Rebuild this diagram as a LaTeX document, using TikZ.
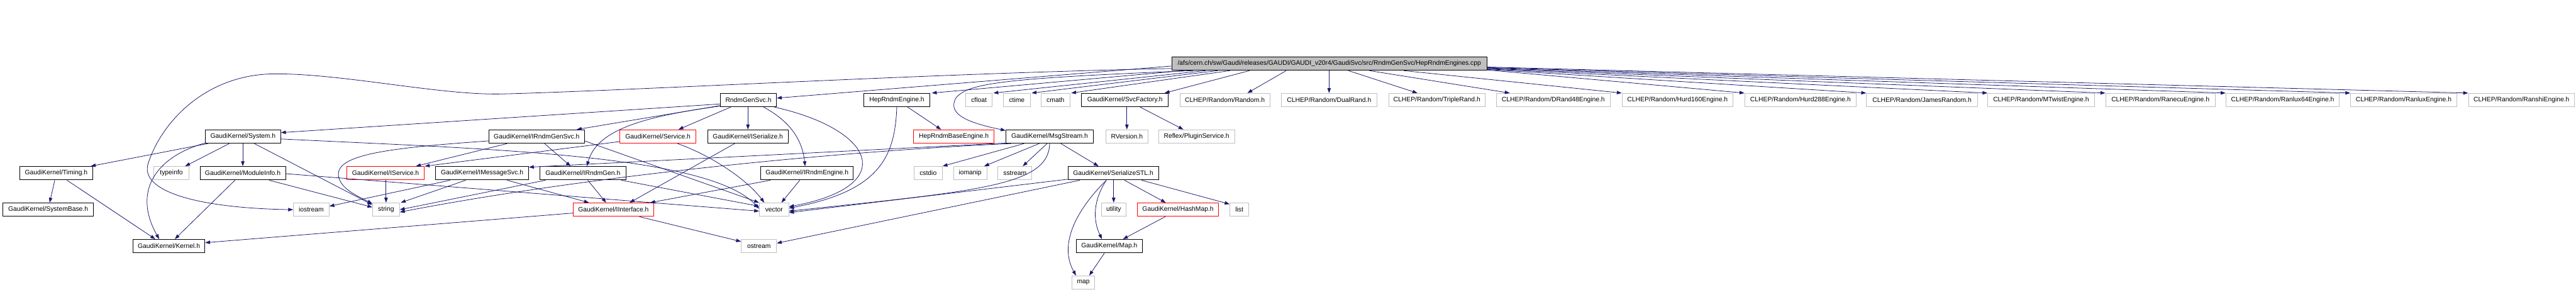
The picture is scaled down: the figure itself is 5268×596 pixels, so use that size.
\documentclass[tikz,border=0pt]{standalone}
\usepackage{fontspec}
\setmainfont{Liberation Sans}
\usetikzlibrary{arrows.meta,calc}
\definecolor{edgec}{HTML}{191970}
\definecolor{grayb}{HTML}{BFBFBF}
\begin{document}
\begin{tikzpicture}[x=1pt,y=-1pt,
  font=\fontsize{13.3}{16}\selectfont,
  nd/.style={rectangle, minimum height=27.5pt, inner sep=0pt, line width=1.2pt, text=black},
  blk/.style={nd, draw=black},
  gry/.style={nd, draw=grayb},
  rdn/.style={nd, draw=red},
  mainn/.style={nd, draw=black, fill=grayb},
  dep/.style={draw=edgec, line width=1pt, -{Triangle[length=10pt,width=7pt]}}]
\useasboundingbox (0,0) rectangle (5268,596);
% row 0
\node[mainn, minimum width=645pt] (main) at (2718.5,130) {/afs/cern.ch/sw/Gaudi/releases/GAUDI/GAUDI\_v20r4/GaudiSvc/src/RndmGenSvc/HepRndmEngines.cpp};
% row 1
\node[blk, minimum width=115pt] (RndmGenSvc) at (1530.5,204.5) {RndmGenSvc.h};
\node[blk, minimum width=134pt] (HepRndmEngine) at (1834,204.5) {HepRndmEngine.h};
\node[gry, minimum width=54pt] (cfloat) at (2002,204.5) {cfloat};
\node[gry, minimum width=55pt] (ctime) at (2079.5,204.5) {ctime};
\node[gry, minimum width=59pt] (cmath) at (2158.5,204.5) {cmath};
\node[blk, minimum width=177pt] (SvcFactory) at (2300.5,204.5) {GaudiKernel/SvcFactory.h};
\node[gry, minimum width=184pt] (Random) at (2505,204.5) {CLHEP/Random/Random.h};
\node[gry, minimum width=196pt] (DualRand) at (2718,204.5) {CLHEP/Random/DualRand.h};
\node[gry, minimum width=197pt] (TripleRand) at (2938.5,204.5) {CLHEP/Random/TripleRand.h};
\node[gry, minimum width=233pt] (DRand48) at (3176.5,204.5) {CLHEP/Random/DRand48Engine.h};
\node[gry, minimum width=227pt] (Hurd160) at (3430.5,204.5) {CLHEP/Random/Hurd160Engine.h};
\node[gry, minimum width=228pt] (Hurd288) at (3682,204.5) {CLHEP/Random/Hurd288Engine.h};
\node[gry, minimum width=227pt] (James) at (3930.5,204.5) {CLHEP/Random/JamesRandom.h};
\node[gry, minimum width=218pt] (MTwist) at (4174,204.5) {CLHEP/Random/MTwistEngine.h};
\node[gry, minimum width=224pt] (Ranecu) at (4418,204.5) {CLHEP/Random/RanecuEngine.h};
\node[gry, minimum width=232pt] (Ranlux64) at (4668,204.5) {CLHEP/Random/Ranlux64Engine.h};
\node[gry, minimum width=217pt] (Ranlux) at (4915.5,204.5) {CLHEP/Random/RanluxEngine.h};
\node[gry, minimum width=217pt] (Ranshi) at (5156.5,204.5) {CLHEP/Random/RanshiEngine.h};
% row 2
\node[blk, minimum width=154pt] (System) at (497,279) {GaudiKernel/System.h};
\node[blk, minimum width=195pt] (IRndmGenSvc) at (1097.5,279) {GaudiKernel/IRndmGenSvc.h};
\node[rdn, minimum width=155pt] (Service) at (1345.5,279) {GaudiKernel/Service.h};
\node[blk, minimum width=165pt] (ISerialize) at (1529.5,279) {GaudiKernel/ISerialize.h};
\node[rdn, minimum width=165pt] (HepRndmBase) at (1950.5,279) {HepRndmBaseEngine.h};
\node[blk, minimum width=179pt] (MsgStream) at (2146.5,279) {GaudiKernel/MsgStream.h};
\node[gry, minimum width=87pt] (RVersion) at (2304.5,279) {RVersion.h};
\node[gry, minimum width=156pt] (Plugin) at (2447,279) {Reflex/PluginService.h};
% row 3
\node[blk, minimum width=150pt] (Timing) at (115,354) {GaudiKernel/Timing.h};
\node[gry, minimum width=71pt] (typeinfo) at (350.5,354) {typeinfo};
\node[blk, minimum width=175pt] (ModuleInfo) at (496.5,354) {GaudiKernel/ModuleInfo.h};
\node[rdn, minimum width=159pt] (IService) at (788.5,354) {GaudiKernel/IService.h};
\node[blk, minimum width=190pt] (IMessageSvc) at (986,354) {GaudiKernel/IMessageSvc.h};
\node[blk, minimum width=176pt] (IRndmGen) at (1192,354) {GaudiKernel/IRndmGen.h};
\node[blk, minimum width=189pt] (IRndmEngine) at (1650.5,354) {GaudiKernel/IRndmEngine.h};
\node[gry, minimum width=58pt] (cstdio) at (1898,354) {cstdio};
\node[gry, minimum width=68pt] (iomanip) at (1984,354) {iomanip};
\node[gry, minimum width=69pt] (sstream) at (2075.5,354) {sstream};
\node[blk, minimum width=185pt] (SerializeSTL) at (2276.5,354) {GaudiKernel/SerializeSTL.h};
% row 4
\node[blk, minimum width=185pt] (SystemBase) at (98.5,428.5) {GaudiKernel/SystemBase.h};
\node[gry, minimum width=73pt] (iostream) at (636.5,428.5) {iostream};
\node[gry, minimum width=55pt] (string) at (789.5,428.5) {string};
\node[rdn, minimum width=165pt] (IInterface) at (1254.5,428.5) {GaudiKernel/IInterface.h};
\node[gry, minimum width=60pt] (vector) at (1583,428.5) {vector};
\node[gry, minimum width=51pt] (utility) at (2277.5,428.5) {utility};
\node[rdn, minimum width=166pt] (HashMap) at (2409,428.5) {GaudiKernel/HashMap.h};
\node[gry, minimum width=39pt] (list) at (2534.5,428.5) {list};
% row 5
\node[blk, minimum width=147pt] (Kernel) at (345.5,503) {GaudiKernel/Kernel.h};
\node[gry, minimum width=72pt] (ostream) at (1552,503) {ostream};
\node[blk, minimum width=135pt] (Map) at (2268.5,503) {GaudiKernel/Map.h};
% row 6
\node[gry, minimum width=47pt] (map) at (2215.5,577.5) {map};

% ---- edges from main
\draw[dep] ($(main.west)+(0,5)$) -- ($(RndmGenSvc.east)+(0,-4)$);
\draw[dep] ($(main.west)+(0,10)$) .. controls (1900,150) and (1300,185) .. (1026,192)
   .. controls (900,195) and (700,150) .. (561,151)
   .. controls (420,152) and (330,250) .. (303,334)
   .. controls (285,390) and (400,425) .. (iostream.west);
\draw[dep] ($(main.south west)+(25,0)$) -- ($(HepRndmEngine.north east)+(4,0)$);
\draw[dep] ($(main.south west)+(45,0)$) .. controls (2050,160) and (1980,170) .. (1955,200)
   .. controls (1935,235) and (1985,252) .. ($(MsgStream.north west)+(0,2)$);
\draw[dep] ($(main.south west)+(70,0)$) -- ($(cfloat.north east)+(2,0)$);
\draw[dep] ($(main.south west)+(95,0)$) -- ($(ctime.north east)+(2,0)$);
\draw[dep] ($(main.south west)+(120,0)$) -- ($(cmath.north east)+(2,0)$);
\draw[dep] ($(main.south west)+(160,0)$) -- ($(SvcFactory.north east)+(-8,0)$);
\draw[dep] ($(main.south west)+(235,0)$) -- ($(Random.north)+(46,0)$);
\draw[dep] (DualRand.north |- main.south) -- (DualRand.north);
\draw[dep] ($(main.south west)+(362,0)$) -- ($(TripleRand.north)+(-40,0)$);
\draw[dep] ($(main.south west)+(405,0)$) -- ($(DRand48.north west)+(28,0)$);
\draw[dep] ($(main.south west)+(475,0)$) -- (Hurd160.north west);
\draw[dep] ($(main.east)+(0,13)$) -- (Hurd288.north west);
\draw[dep] ($(main.east)+(0,12)$) -- (James.north west);
\draw[dep] ($(main.east)+(0,11)$) -- (MTwist.north west);
\draw[dep] ($(main.east)+(0,10)$) -- (Ranecu.north west);
\draw[dep] ($(main.east)+(0,9)$) -- (Ranlux64.north west);
\draw[dep] ($(main.east)+(0,8)$) -- (Ranlux.north west);
\draw[dep] ($(main.east)+(0,7)$) -- (Ranshi.north west);

% ---- RndmGenSvc
\draw[dep] ($(RndmGenSvc.west)+(0,8)$) -- ($(System.east)+(0,-8)$);
\draw[dep] ($(RndmGenSvc.south west)+(0,-3)$) -- ($(IRndmGenSvc.north)+(82,0)$);
\draw[dep] ($(RndmGenSvc.south west)+(0,-2)$) .. controls (1300,240) and (1220,270) .. ($(IRndmGen.north)+(8,0)$);
\draw[dep] ($(RndmGenSvc.south west)+(22,0)$) -- ($(Service.north)+(42,0)$);
\draw[dep] (ISerialize.north |- RndmGenSvc.south) -- (ISerialize.north);
\draw[dep] ($(RndmGenSvc.south)+(31,0)$) .. controls (1610,245) and (1640,280) .. ($(IRndmEngine.north)+(-4,0)$);
\draw[dep] ($(RndmGenSvc.south east)+(-5,0)$) .. controls (1790,265) and (1840,380) .. ($(vector.east)+(0,-6)$);

% ---- HepRndmEngine
\draw[dep] ($(HepRndmEngine.south)+(22,0)$) -- ($(HepRndmBase.north)+(-26,0)$);
\draw[dep] (HepRndmEngine.south) .. controls (1830,320) and (1800,390) .. ($(vector.east)+(0,-3)$);

% ---- SvcFactory
\draw[dep] (RVersion.north |- SvcFactory.south) -- (RVersion.north);
\draw[dep] ($(SvcFactory.south)+(31,0)$) -- ($(Plugin.north)+(-27,0)$);

% ---- MsgStream
\draw[dep] ($(MsgStream.south west)+(38,0)$) -- (cstdio.north east);
\draw[dep] ($(MsgStream.south west)+(69,0)$) -- ($(iomanip.north east)+(-6,0)$);
\draw[dep] ($(MsgStream.south west)+(85,0)$) -- ($(sstream.north)+(16,0)$);
\draw[dep] ($(MsgStream.south west)+(113,0)$) -- ($(SerializeSTL.north)+(-30,0)$);
\draw[dep] ($(MsgStream.south west)+(0,-1)$) -- ($(IMessageSvc.north east)+(0,2)$);
\draw[dep] ($(MsgStream.south west)+(12,0)$) .. controls (1700,310) and (1200,360) .. ($(string.east)+(0,5)$);
\draw[dep] (MsgStream.south) .. controls (2145,380) and (2000,390) .. ($(vector.east)+(0,3)$);

% ---- SerializeSTL
\draw[dep] (utility.north |- SerializeSTL.south) -- (utility.north);
\draw[dep] ($(SerializeSTL.south)+(23,0)$) -- ($(HashMap.north)+(-25,0)$);
\draw[dep] ($(SerializeSTL.south east)+(-35,0)$) -- ($(list.north west)+(0,3)$);
\draw[dep] ($(SerializeSTL.south)+(-14,0)$) .. controls (2235,410) and (2235,450) .. ($(Map.north)+(-15,0)$);
\draw[dep] ($(SerializeSTL.south)+(-14,0)$) .. controls (2200,430) and (2165,500) .. ($(map.north)+(-15,0)$);
\draw[dep] ($(SerializeSTL.south west)+(0,-2)$) -- ($(vector.east)+(0,6)$);
\draw[dep] ($(SerializeSTL.south west)+(25,0)$) -- ($(ostream.east)+(0,-6)$);
\draw[dep] ($(HashMap.south)+(-26,0)$) -- ($(Map.north)+(28,0)$);
\draw[dep] ($(Map.south)+(-10,0)$) -- ($(map.north)+(12,0)$);

% ---- ISerialize, Service, IRndmGenSvc
\draw[dep] ($(ISerialize.south)+(-27,0)$) -- ($(IInterface.north east)+(-50,0)$);
\draw[dep] ($(Service.south west)+(0,-4)$) -- (IService.north east);
\draw[dep] ($(Service.south)+(40,0)$) .. controls (1460,320) and (1530,370) .. ($(vector.north)+(-20,0)$);
\draw[dep] ($(IRndmGenSvc.south west)+(38,0)$) -- ($(IService.north)+(62,0)$);
\draw[dep] ($(IRndmGenSvc.west)+(0,9)$) .. controls (800,302) and (690,315) .. (692,357)
   .. controls (694,385) and (730,400) .. ($(string.north west)+(0,2)$);
\draw[dep] ($(IRndmGenSvc.south)+(16,0)$) -- ($(IRndmGen.north)+(-25,0)$);
\draw[dep] ($(IRndmGenSvc.east)+(0,9)$) -- (vector.north west);

% ---- IMessageSvc, IRndmGen, IRndmEngine, IService
\draw[dep] ($(IMessageSvc.south west)+(30,0)$) -- ($(iostream.east)+(0,-7)$);
\draw[dep] ($(IMessageSvc.south west)+(62,0)$) -- ($(string.north east)+(2,0)$);
\draw[dep] ($(IMessageSvc.south)+(51,0)$) -- ($(IInterface.north west)+(33,0)$);
\draw[dep] ($(IRndmGen.south)+(10,0)$) -- ($(IInterface.north)+(-15,0)$);
\draw[dep] ($(IRndmGen.south west)+(12,0)$) -- (string.east);
\draw[dep] ($(IRndmGen.south east)+(-10,0)$) -- ($(vector.west)+(0,-7)$);
\draw[dep] ($(IRndmEngine.south west)+(20,0)$) -- ($(IInterface.north east)+(-8,0)$);
\draw[dep] ($(IRndmEngine.south)+(-15,0)$) -- ($(vector.north)+(15,0)$);
\draw[dep] (string.north |- IService.south) -- (string.north);

% ---- IInterface
\draw[dep] ($(IInterface.south east)+(-30,0)$) -- ($(ostream.north west)+(0,5)$);
\draw[dep] ($(IInterface.west)+(0,7)$) -- ($(Kernel.east)+(0,-7)$);

% ---- System
\draw[dep] ($(System.south west)+(6,0)$) -- ($(Timing.north east)+(-5,0)$);
\draw[dep] ($(System.south)+(-28,0)$) -- ($(typeinfo.north east)+(-8,0)$);
\draw[dep] (ModuleInfo.north |- System.south) -- (ModuleInfo.north);
\draw[dep] ($(System.south)+(23,0)$) -- ($(string.west)+(0,-10)$);
\draw[dep] ($(System.east)+(0,5)$) .. controls (1000,305) and (1450,315) .. ($(vector.west)+(0,-2)$);
\draw[dep] ($(System.south west)+(0,-1)$) .. controls (320,320) and (270,390) .. ($(Kernel.north)+(-20,0)$);

% ---- Timing, ModuleInfo
\draw[dep] ($(Timing.south)+(-3,0)$) -- ($(SystemBase.north)+(3,0)$);
\draw[dep] ($(Timing.south)+(22,0)$) -- ($(Kernel.north)+(-28,0)$);
\draw[dep] ($(ModuleInfo.south)+(-16,0)$) -- ($(Kernel.north)+(12,0)$);
\draw[dep] ($(ModuleInfo.south)+(54,0)$) -- ($(string.west)+(0,-5)$);
\draw[dep] ($(ModuleInfo.east)+(0,1)$) -- ($(vector.west)+(0,3)$);
\end{tikzpicture}
\end{document}
